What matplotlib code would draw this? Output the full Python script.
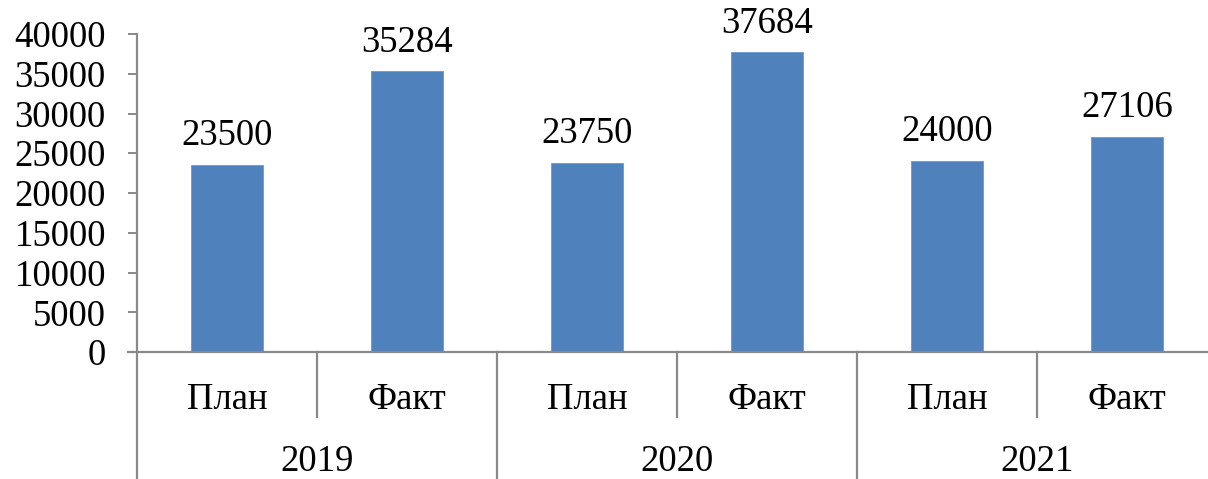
import matplotlib
matplotlib.use("Agg")
import matplotlib.pyplot as plt
from matplotlib.transforms import blended_transform_factory

years = ["2019", "2020", "2021"]
kinds = ["План", "Факт"]
values = [23500, 35284, 23750, 37684, 24000, 27106]
yticks = [0, 5000, 10000, 15000, 20000, 25000, 30000, 35000, 40000]

plt.rcParams['font.family'] = ['Liberation Serif', 'DejaVu Serif']

W, H = 1208, 479
fig = plt.figure(figsize=(W / 100, H / 100), dpi=100)
x0, x1 = 137, 1217
y0, y1 = 352, 34
ax = fig.add_axes([x0 / W, (H - y0) / H, (x1 - x0) / W, (y0 - y1) / H])

gray = "#898989"
bar_color = "#4F81BD"
fs = 26.5

n = len(values)
xs = [i + 0.5 for i in range(n)]
bars = ax.bar(xs, values, width=0.4, color=bar_color, edgecolor="#6f97c9", linewidth=0.6, zorder=3)
for b, v in zip(bars, values):
    ax.annotate(str(v), (b.get_x() + b.get_width() / 2, v), xytext=(0, 8.5),
                textcoords="offset points", ha="center", va="bottom", fontsize=fs)

ax.set_xlim(0, n)
ax.set_ylim(0, 40000)
ax.set_yticks(yticks)
ax.set_yticklabels([str(t) for t in yticks], fontsize=fs)
ax.tick_params(axis='y', direction='out', length=6.5, width=1.4, color=gray, pad=16)
ax.set_xticks([])
for s in ["top", "right", "bottom", "left"]:
    ax.spines[s].set_visible(False)

axh = y0 - y1
bt = blended_transform_factory(ax.transData, ax.transAxes)
bottom_fig = -(H - y0) / axh
# x axis line (extends slightly left of y axis)
ax.plot([-9 / 180, n], [0, 0], transform=bt, color=gray, lw=1.6, clip_on=False, zorder=4)
# y axis line down to figure bottom
ax.plot([0, 0], [1, bottom_fig], transform=bt, color=gray, lw=1.6, clip_on=False, zorder=4)
# separators
for i in range(1, n + 1):
    if i % 2 == 1:
        ax.plot([i, i], [0, -65 / axh], transform=bt, color=gray, lw=1.6, clip_on=False)
    else:
        ax.plot([i, i], [0, bottom_fig], transform=bt, color=gray, lw=1.6, clip_on=False)

# category labels
for i in range(n):
    ax.text(i + 0.5, -(400 - y0) / axh, kinds[i % 2], transform=bt, ha="center", va="center", fontsize=fs)
for j, yr in enumerate(years):
    ax.text(2 * j + 1, -(462 - y0) / axh, yr, transform=bt, ha="center", va="center", fontsize=fs)

fig.savefig("out.png", dpi=100)
